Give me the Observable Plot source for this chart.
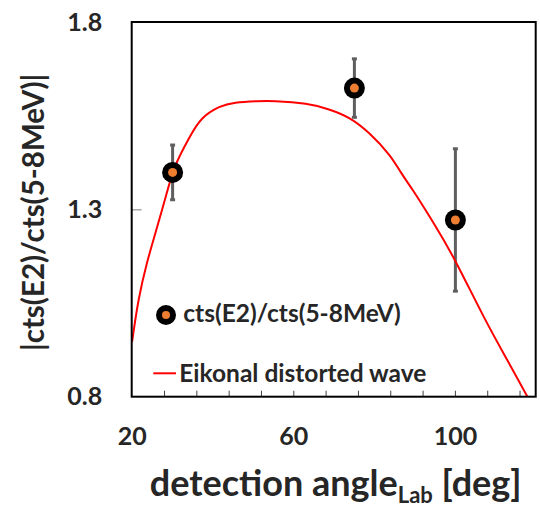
<!DOCTYPE html>
<html>
<head>
<meta charset="utf-8">
<script src="https://cdn.jsdelivr.net/npm/d3@7"></script>
<script src="https://cdn.jsdelivr.net/npm/@observablehq/plot@0.6"></script>
<style>
  html, body { margin: 0; padding: 0; background: #fff; }
  #chart { width: 540px; height: 508px; }
</style>
</head>
<body>
<div id="chart"></div>
<script>
// Measured data
const angles = [30, 75, 100];
const ratios = [1.40, 1.625, 1.273];
const errors = [0.073, 0.078, 0.19];

// Eikonal distorted wave curve
const curveAngles = [20, 21.6, 23.7, 25.8, 28.3, 30.7, 34, 37.3, 41.5, 45.6, 51, 55.5, 62.9, 68.7, 73.7, 78.6, 83.6, 86.5, 89.8, 94.7, 100, 107.1, 112.9, 117.9];
const curveValues = [0.95, 1.06, 1.16, 1.24, 1.335, 1.418, 1.49, 1.543, 1.574, 1.586, 1.590, 1.590, 1.583, 1.568, 1.545, 1.505, 1.447, 1.40, 1.347, 1.263, 1.163, 1.013, 0.898, 0.80];

// Axis domains and tick labels
const xDomain = [20, 120];
const yDomain = [0.8, 1.8];
const xTickLabels = [20, 60, 100];
const xMinorTicks = [28, 36, 44, 52, 60, 68, 76, 84, 92, 100, 108, 116];
const yTickLabels = [0.8, 1.3, 1.8];
const yInnerTicks = [1.3];

const seriesName = "cts(E2)/cts(5-8MeV)";
const curveName = "Eikonal distorted wave";

const points = angles.map((a, i) => ({angle: a, ratio: ratios[i], lo: ratios[i] - errors[i], hi: ratios[i] + errors[i]}));
const curve = curveAngles.map((a, i) => ({angle: a, value: curveValues[i]}));

const capSymbol = {
  draw(ctx) {
    ctx.moveTo(-2.5, -1.5); ctx.lineTo(2.5, -1.5); ctx.lineTo(2.5, 1.5); ctx.lineTo(-2.5, 1.5); ctx.closePath();
  }
};

const textColor = "#262626";
const font = "Lato, 'Open Sans', sans-serif";

const chart = Plot.plot({
  width: 540,
  height: 508,
  marginLeft: 131.7,
  marginRight: 4.3,
  marginTop: 22,
  marginBottom: 111.3,
  style: {fontFamily: font, fontWeight: "bold", fontSize: "25px", color: textColor, background: "#fff", overflow: "visible"},
  x: {domain: xDomain},
  y: {domain: yDomain},
  marks: [
    Plot.axisX({ticks: xMinorTicks, tickSize: -6, text: null, label: null, stroke: "#404040", strokeWidth: 1}),
    Plot.axisX({ticks: xTickLabels, tickSize: 0, tickPadding: 29.6, tickFormat: d => String(d), fill: textColor, label: null}),
    Plot.axisY({ticks: yInnerTicks, tickSize: -10, text: null, label: null, stroke: "#7f7f7f", strokeWidth: 1}),
    Plot.axisY({ticks: yTickLabels, tickSize: 0, tickPadding: 30, tickFormat: d3.format(".1f"), fill: textColor, label: null}),
    Plot.ruleX(points, {x: "angle", y1: "lo", y2: "hi", stroke: "#5f5f5f", strokeWidth: 3}),
    Plot.dot(points, {x: "angle", y: "lo", symbol: capSymbol, fill: "#5f5f5f", r: 3}),
    Plot.dot(points, {x: "angle", y: "hi", symbol: capSymbol, fill: "#5f5f5f", r: 3}),
    Plot.line(curve, {x: "angle", y: "value", stroke: "#ff0000", strokeWidth: 2, curve: "natural", clip: "frame"}),
    Plot.dot(points, {x: "angle", y: "ratio", r: 10.5, fill: "#000"}),
    Plot.dot(points, {x: "angle", y: "ratio", r: 4.5, fill: "#ed7d31"})
  ]
});

document.getElementById("chart").appendChild(chart);

const svg = d3.select(chart);
const xs = chart.scale("x");
const ys = chart.scale("y");
const x0 = xs.apply(xDomain[0]), x1 = xs.apply(xDomain[1]);
const y0 = ys.apply(yDomain[0]), y1 = ys.apply(yDomain[1]);
const cx = (x0 + x1) / 2;
const cy = (y0 + y1) / 2;

// plot box
svg.append("rect")
  .attr("x", x0).attr("y", y1)
  .attr("width", x1 - x0).attr("height", y0 - y1)
  .attr("fill", "none").attr("stroke", "#000").attr("stroke-width", 2);

function styled(sel, size) {
  return sel.style("font-family", font).style("font-weight", "bold").style("font-size", size + "px").style("fill", textColor);
}

// X axis title with subscript
const xt = styled(svg.append("text"), 36)
  .attr("x", cx + 2).attr("y", 496)
  .attr("text-anchor", "middle");
xt.append("tspan").text("detection angle");
xt.append("tspan").style("font-size", "22px").attr("dy", 7).text("Lab");
xt.append("tspan").attr("dy", -7).text(" [deg]");

// Y axis title
styled(svg.append("text"), 29.5)
  .attr("transform", `translate(44,${cy + 3}) rotate(-90)`)
  .attr("text-anchor", "middle")
  .text("|cts(E2)/cts(5-8MeV)|");

// Legend
const lg = svg.append("g");
lg.append("circle").attr("cx", 166).attr("cy", 315).attr("r", 10).attr("fill", "#000");
lg.append("circle").attr("cx", 166).attr("cy", 315).attr("r", 4).attr("fill", "#ed7d31");
styled(lg.append("text"), 24.5).attr("text-anchor", "start").attr("x", 183.3).attr("y", 322).text(seriesName);
lg.append("line").attr("x1", 153.3).attr("x2", 176).attr("y1", 373.3).attr("y2", 373.3).attr("stroke", "#ff0000").attr("stroke-width", 2);
styled(lg.append("text"), 24.5).attr("text-anchor", "start").attr("x", 179.3).attr("y", 382).text(curveName);
</script>
</body>
</html>
